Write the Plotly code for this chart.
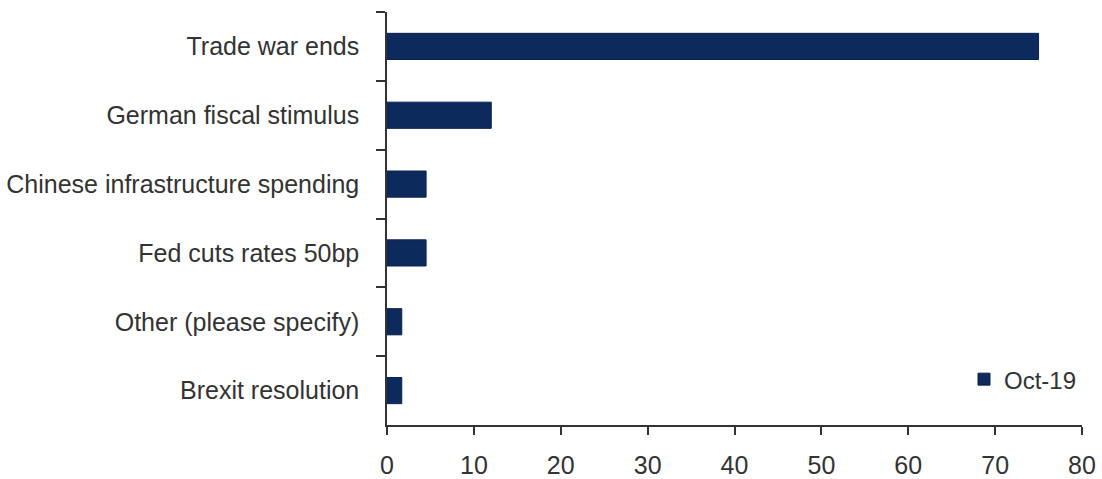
import plotly.graph_objects as go

categories = [
    "Trade war ends",
    "German fiscal stimulus",
    "Chinese infrastructure spending",
    "Fed cuts rates 50bp",
    "Other (please specify)",
    "Brexit resolution",
]
values_oct19 = [75, 12, 4.5, 4.5, 1.7, 1.7]
series_name = "Oct-19"
x_ticks = [0, 10, 20, 30, 40, 50, 60, 70, 80]

fig = go.Figure()
fig.add_trace(go.Bar(
    y=categories,
    x=values_oct19,
    orientation="h",
    name=series_name,
    width=0.38,
    marker=dict(color="#0c2a5b", line=dict(color="#0a2350", width=1)),
    showlegend=True,
))

font_family = "Liberation Sans, Arial, sans-serif"
text_color = "#333333"
fig.update_layout(
    template="none",
    width=1102,
    height=479,
    margin=dict(l=387, r=20, t=12, b=54),
    paper_bgcolor="white",
    plot_bgcolor="white",
    font=dict(family=font_family, size=25, color=text_color),
    legend=dict(
        x=1.0, xanchor="right",
        y=0.11, yanchor="middle",
        bgcolor="rgba(0,0,0,0)",
        font=dict(size=24, color=text_color),
        itemwidth=30,
        tracegroupgap=0,
    ),
    xaxis=dict(
        automargin=False,
        range=[0, 80],
        tickvals=x_ticks,
        showgrid=False,
        zeroline=False,
        showline=True,
        linecolor="#333333",
        linewidth=1.5,
        ticks="outside",
        ticklen=8,
        tickcolor="#333333",
        tickwidth=1.5,
        ticklabelstandoff=9,
        tickfont=dict(size=25, color=text_color),
        fixedrange=True,
    ),
    yaxis=dict(
        automargin=False,
        type="category",
        categoryorder="array",
        categoryarray=categories,
        autorange="reversed",
        showgrid=False,
        zeroline=False,
        showline=True,
        linecolor="#333333",
        linewidth=1.5,
        ticks="outside",
        tickson="boundaries",
        ticklen=9,
        tickcolor="#333333",
        tickwidth=1.5,
        ticklabelstandoff=21,
        tickfont=dict(size=25, color=text_color),
        fixedrange=True,
    ),
)

fig.write_html(
    "out.html",
    config={"displayModeBar": False},
    post_script="document.body.style.margin='0';document.body.style.overflow='hidden';",
)
